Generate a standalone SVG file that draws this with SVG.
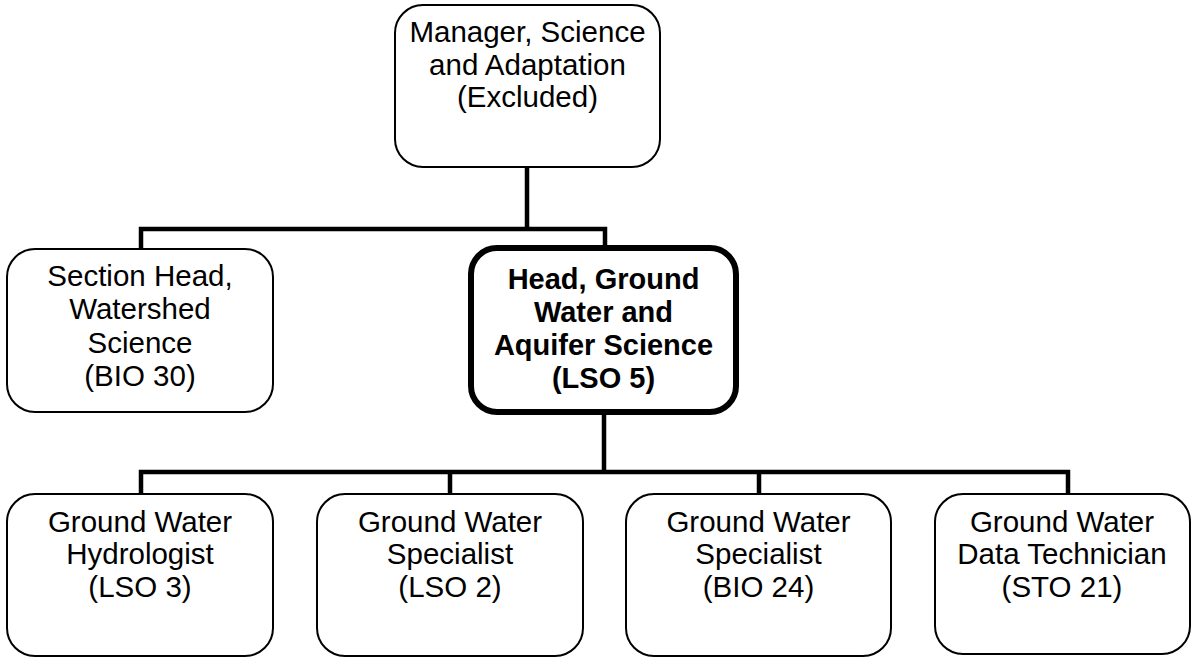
<svg xmlns="http://www.w3.org/2000/svg" width="1194" height="658" viewBox="0 0 1194 658">
<style>
.box{fill:#fff;stroke:#000;stroke-width:2}
.bold{fill:#fff;stroke:#000;stroke-width:6}
.t{font-family:"Liberation Sans",Arial,sans-serif;font-size:29.5px;text-anchor:middle;fill:#000}
.tb{font-family:"Liberation Sans",Arial,sans-serif;font-size:29px;font-weight:bold;text-anchor:middle;fill:#000}
.c{fill:none;stroke:#000;stroke-width:4.5}
</style>
<rect width="1194" height="658" fill="#fff"/>
<g id="connectors">
<path class="c" d="M527 167V229M141 249V229H605V246"/>
<path class="c" d="M604 414V472M141 494V472H1068V494M450 472V494M759 472V494"/>
</g>
<g id="manager">
<rect class="box" x="395" y="5" width="265" height="162" rx="28"/>
<text class="t" x="527.5" y="42">Manager, Science</text>
<text class="t" x="527.5" y="75">and Adaptation</text>
<text class="t" x="527.5" y="107">(Excluded)</text>
</g>
<g id="section-head">
<rect class="box" x="7" y="249" width="266" height="163" rx="28"/>
<text class="t" x="140" y="286">Section Head,</text>
<text class="t" x="140" y="319">Watershed</text>
<text class="t" x="140" y="353">Science</text>
<text class="t" x="140" y="386">(BIO 30)</text>
</g>
<g id="head-gw">
<rect class="bold" x="471" y="248" width="265" height="164" rx="26"/>
<text class="tb" x="603.5" y="289">Head, Ground</text>
<text class="tb" x="603.5" y="322">Water and</text>
<text class="tb" x="603.5" y="355">Aquifer Science</text>
<text class="tb" x="603.5" y="388">(LSO 5)</text>
</g>
<g id="hydrologist">
<rect class="box" x="7" y="494" width="266" height="162" rx="28"/>
<text class="t" x="140" y="532">Ground Water</text>
<text class="t" x="140" y="564">Hydrologist</text>
<text class="t" x="140" y="597">(LSO 3)</text>
</g>
<g id="specialist-lso2">
<rect class="box" x="317" y="494" width="266" height="162" rx="28"/>
<text class="t" x="450" y="532">Ground Water</text>
<text class="t" x="450" y="564">Specialist</text>
<text class="t" x="450" y="597">(LSO 2)</text>
</g>
<g id="specialist-bio24">
<rect class="box" x="626" y="494" width="265" height="162" rx="28"/>
<text class="t" x="758.5" y="532">Ground Water</text>
<text class="t" x="758.5" y="564">Specialist</text>
<text class="t" x="758.5" y="597">(BIO 24)</text>
</g>
<g id="technician">
<rect class="box" x="935" y="494" width="255" height="160" rx="28"/>
<text class="t" x="1062" y="532">Ground Water</text>
<text class="t" x="1062" y="564">Data Technician</text>
<text class="t" x="1062" y="597">(STO 21)</text>
</g>
</svg>
